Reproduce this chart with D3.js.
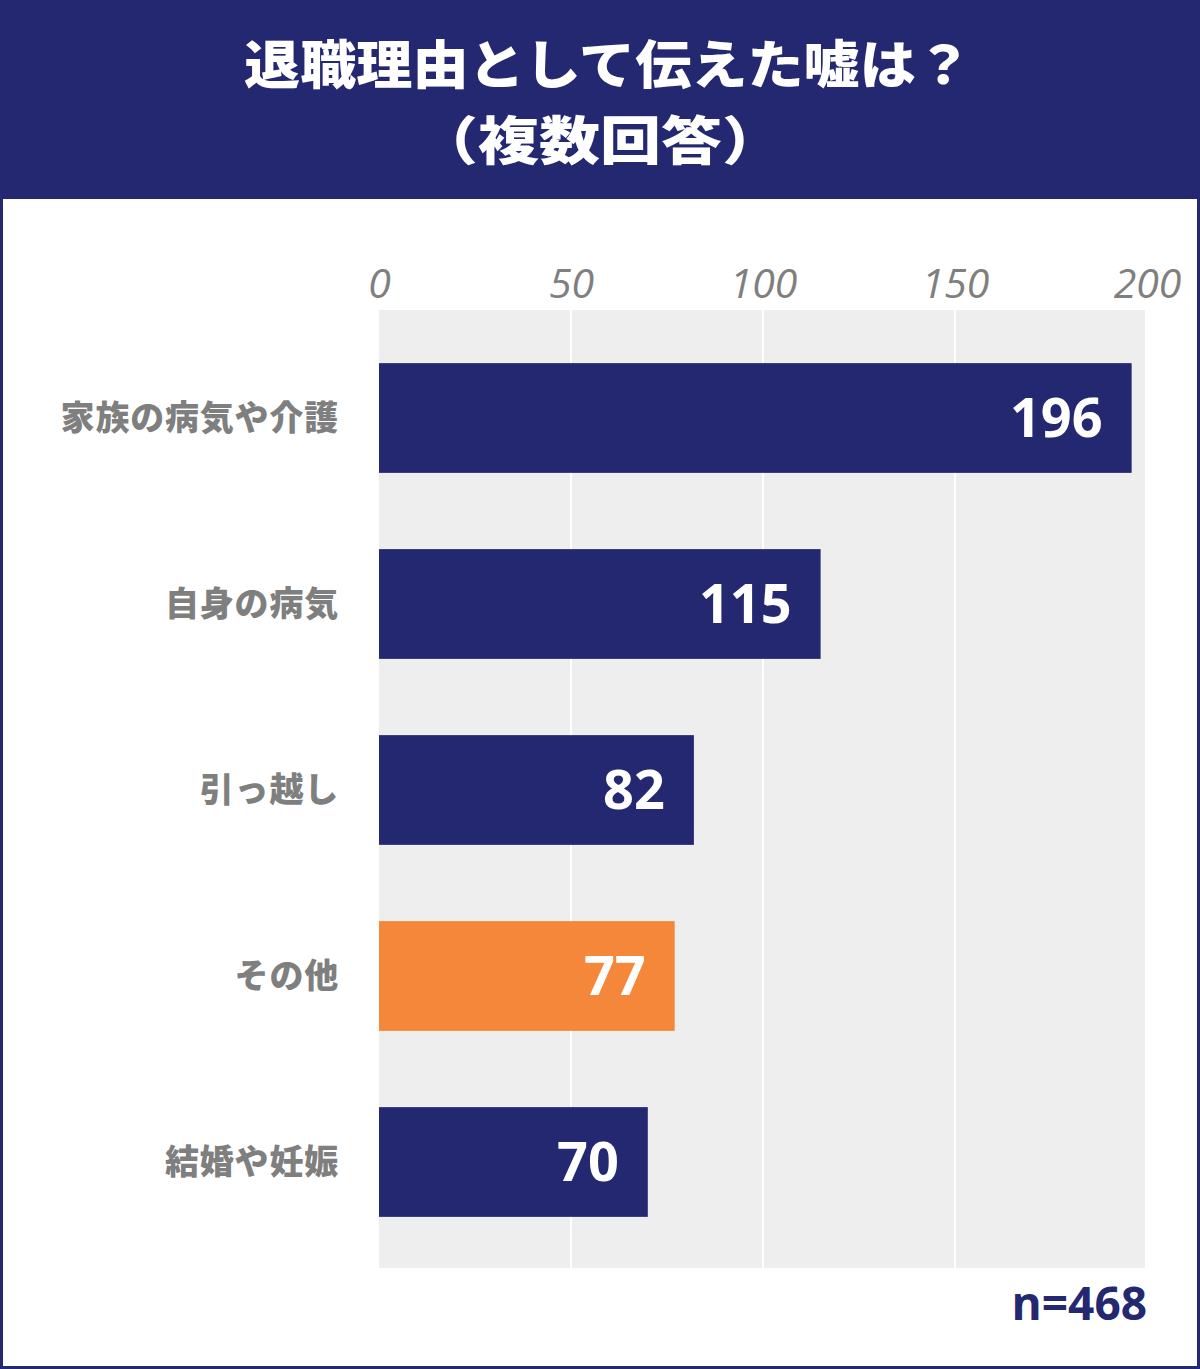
<!DOCTYPE html>
<html>
<head>
<meta charset="utf-8">
<script src="https://cdn.jsdelivr.net/npm/d3@7"></script>
<style>
  html, body { margin: 0; padding: 0; background: #ffffff; }
  svg { display: block; }
</style>
</head>
<body>
<svg id="chart" width="1200" height="1369"></svg>
<script>
const titleLines = ["退職理由として伝えた嘘は？", "（複数回答）"];
const categories = ["家族の病気や介護", "自身の病気", "引っ越し", "その他", "結婚や妊娠"];
const values = [196, 115, 82, 77, 70];
const highlight = ["その他"];
const tickValues = [0, 50, 100, 150, 200];
const sampleNote = "n=468";

const NAVY = "#232870";
const ORANGE = "#f5873a";
const GRAY_TEXT = "#7f7f7f";
const PLOT_BG = "#eeeeee";

const W = 1200, H = 1369;
const svg = d3.select("#chart");

// frame
svg.append("rect").attr("x", 1.5).attr("y", 1.5).attr("width", W - 3).attr("height", H - 3)
  .attr("fill", "#fff").attr("stroke", NAVY).attr("stroke-width", 3);
// banner
svg.append("rect").attr("x", 0).attr("y", 0).attr("width", W).attr("height", 199).attr("fill", NAVY);

const titleSpec = [{y: 84, len: 728, size: 52, dx: 8}, {y: 160, len: 366, size: 52, dx: 0}];
svg.selectAll("text.title").data(titleLines).join("text")
  .attr("class", "title")
  .attr("x", (d, i) => W / 2 + titleSpec[i].dx)
  .attr("y", (d, i) => titleSpec[i].y)
  .attr("text-anchor", "middle")
  .attr("textLength", (d, i) => titleSpec[i].len)
  .attr("lengthAdjust", "spacingAndGlyphs")
  .attr("fill", "#fff")
  .attr("font-family", "'Noto Sans CJK JP', sans-serif")
  .attr("font-weight", 900)
  .attr("font-size", (d, i) => titleSpec[i].size)
  .text(d => d);

const x = d3.scaleLinear().domain([0, 200]).range([379, 1147]);
const y = d3.scaleBand().domain(categories).range([325, 1255]).paddingInner(0.41).paddingOuter(0.205);

// plot background
svg.append("rect").attr("x", x(0)).attr("y", 310).attr("width", x(200) - 2 - x(0)).attr("height", 1268 - 310)
  .attr("fill", PLOT_BG);

// gridlines
svg.append("g").selectAll("line").data(tickValues.filter(t => t > 0 && t < 200)).join("line")
  .attr("x1", d => x(d)).attr("x2", d => x(d))
  .attr("y1", 310).attr("y2", 1268)
  .attr("stroke", "#fff").attr("stroke-width", 2);

// top axis labels
const axis = d3.axisTop(x).tickValues(tickValues).tickSize(0).tickPadding(0);
const ag = svg.append("g").attr("transform", "translate(0,298)").call(axis);
ag.select(".domain").remove();
ag.selectAll("text")
  .attr("y", 0).attr("dy", 0)
  .attr("fill", GRAY_TEXT)
  .attr("font-family", "'Open Sans', sans-serif")
  .attr("font-style", "italic")
  .attr("font-size", 41);

// bars
svg.append("g").selectAll("rect").data(categories).join("rect")
  .attr("x", x(0))
  .attr("y", d => y(d))
  .attr("width", (d, i) => x(values[i]) - x(0))
  .attr("height", y.bandwidth())
  .attr("fill", d => highlight.includes(d) ? ORANGE : NAVY);

// value labels
svg.append("g").selectAll("text").data(categories).join("text")
  .attr("x", (d, i) => x(values[i]) - 29)
  .attr("y", d => y(d) + y.bandwidth() / 2 + 19)
  .attr("text-anchor", "end")
  .attr("fill", "#fff")
  .attr("font-family", "'Open Sans', sans-serif")
  .attr("font-weight", 700)
  .attr("font-size", 54)
  .text((d, i) => values[i]);

// category labels
svg.append("g").selectAll("text").data(categories).join("text")
  .attr("x", 339)
  .attr("y", d => y(d) + y.bandwidth() / 2 + 12)
  .attr("text-anchor", "end")
  .attr("fill", GRAY_TEXT)
  .attr("font-family", "'Noto Sans CJK JP', sans-serif")
  .attr("font-weight", 800)
  .attr("font-size", 34)
  .attr("letter-spacing", 0.8)
  .text(d => d);

// sample size
svg.append("text")
  .attr("x", 1147).attr("y", 1320)
  .attr("text-anchor", "end")
  .attr("fill", NAVY)
  .attr("font-family", "'Open Sans', sans-serif")
  .attr("font-weight", 700)
  .attr("font-size", 46)
  .text(sampleNote);
</script>
</body>
</html>
